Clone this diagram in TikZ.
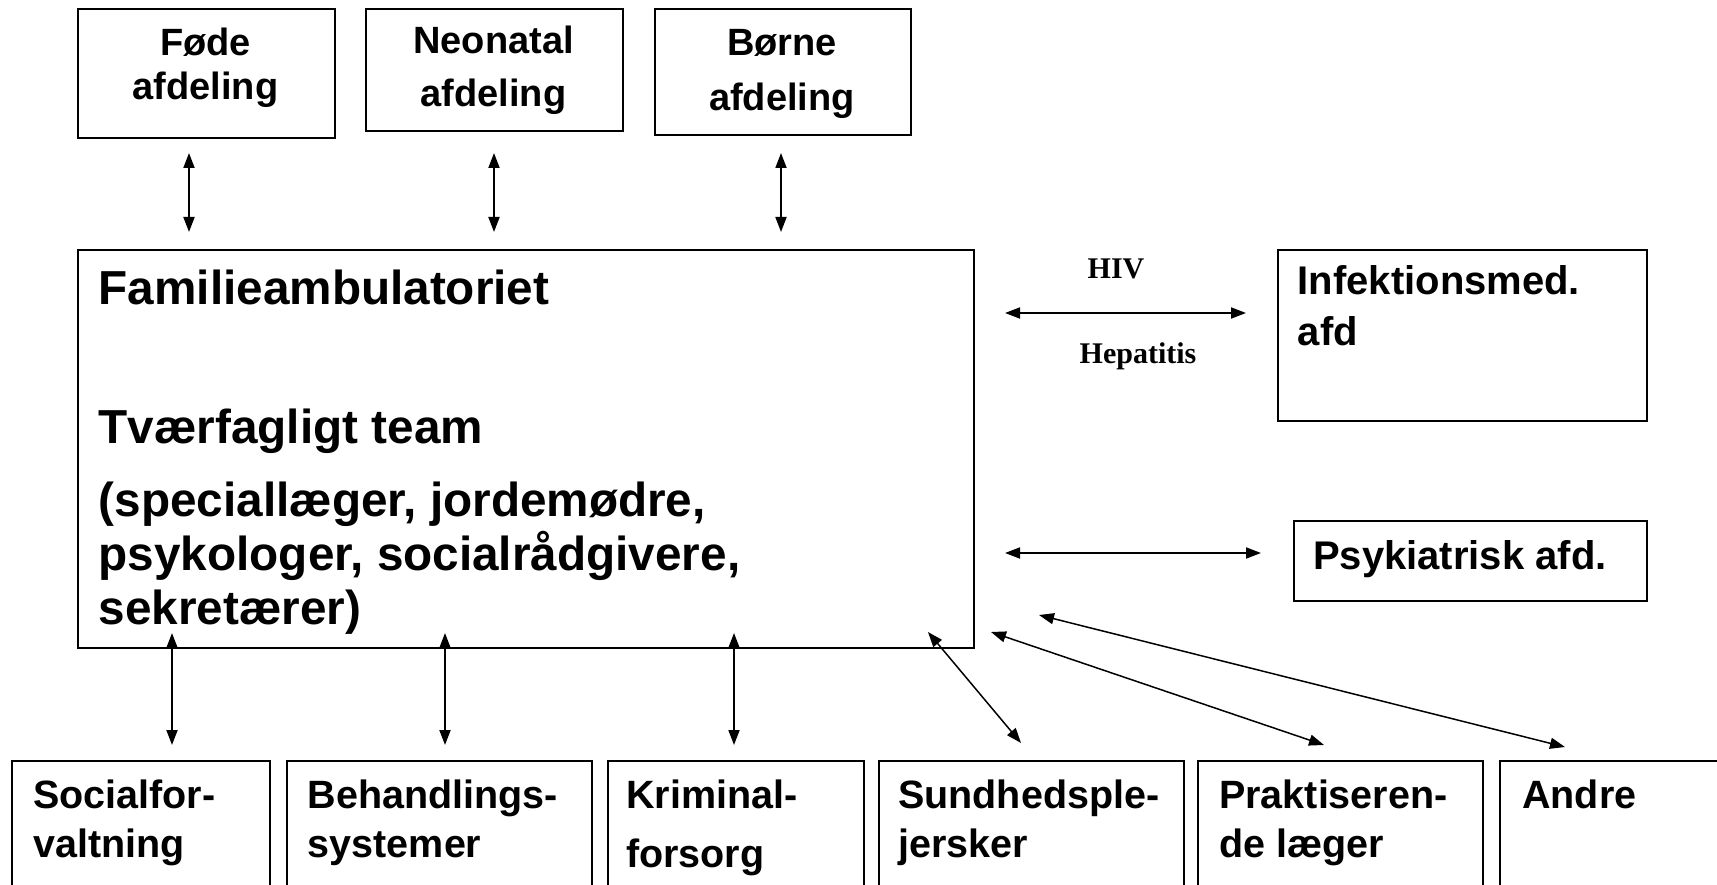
\documentclass[tikz,border=0pt]{standalone}
\usepackage{fontspec}
\setmainfont{Liberation Sans}
\newfontfamily\serifb{Liberation Serif}
\usetikzlibrary{arrows.meta}
\begin{document}
\begin{tikzpicture}[x=1pt,y=-1pt,
  box/.style={draw,line width=2.4pt,anchor=north west,inner sep=0pt},
  arr/.style={{Triangle[length=15pt,width=11pt]}-{Triangle[length=15pt,width=11pt]},line width=1.8pt},
  darr/.style={{Triangle[length=15pt,width=11pt]}-{Triangle[length=15pt,width=11pt]},line width=1.5pt},
  ttop/.style={anchor=base,inner sep=0pt,font=\bfseries\fontsize{38}{46}\selectfont},
  tbot/.style={anchor=base west,inner sep=0pt,font=\bfseries\fontsize{39.5}{48}\selectfont},
  tmain/.style={anchor=base west,inner sep=0pt,font=\bfseries\fontsize{47.7}{54}\selectfont},
  tside/.style={anchor=base west,inner sep=0pt,font=\bfseries\fontsize{40}{48}\selectfont},
  tlab/.style={anchor=base,inner sep=0pt,font=\serifb\bfseries\fontsize{30}{36}\selectfont}]
\useasboundingbox (0,0) rectangle (1717,885);
\clip (0,0) rectangle (1717,885);
\fill[white] (0,0) rectangle (1717,885);

% top boxes
\node[box,minimum width=257pt,minimum height=129pt] (fode) at (77,8) {};
\node[box,minimum width=257pt,minimum height=122pt] (neo) at (365,8) {};
\node[box,minimum width=256pt,minimum height=126pt] (borne) at (654,8) {};
\node[ttop] (fodeA) at (205.5,56) {Føde};
\node[ttop] (fodeB) at (205.5,100) {afdeling};
\node[ttop] (neoA) at (493.5,54) {Neonatal};
\node[ttop] (neoB) at (493.5,107) {afdeling};
\node[ttop] (borneA) at (782,56) {Børne};
\node[ttop] (borneB) at (782,111) {afdeling};

% main box
\node[box,minimum width=896pt,minimum height=398pt] (fam) at (77,249) {};
\node[tmain] (famA) at (98.5,305) {Familieambulatoriet};
\node[tmain] (famB) at (98.5,443) {Tværfagligt team};
\node[tmain] (famC) at (98.5,516) {(speciallæger, jordemødre,};
\node[tmain] (famD) at (98.5,570) {psykologer, socialrådgivere,};
\node[tmain] (famE) at (98.5,624) {sekretærer)};

% right boxes
\node[box,minimum width=369pt,minimum height=171pt] (inf) at (1277,249) {};
\node[tside] (infA) at (1297.6,295) {Infektionsmed.};
\node[tside] (infB) at (1297.6,346) {afd};
\node[box,minimum width=353pt,minimum height=80pt] (psy) at (1293,520) {};
\node[tside] (psyA) at (1313,569) {Psykiatrisk afd.};
\node[tlab] (hiv) at (1116,279) {HIV};
\node[tlab] (hep) at (1138,363) {Hepatitis};

% bottom boxes
\node[box,minimum width=258pt,minimum height=160pt] (soc) at (11,760) {};
\node[box,minimum width=305pt,minimum height=160pt] (beh) at (286,760) {};
\node[box,minimum width=256pt,minimum height=160pt] (kri) at (607,760) {};
\node[box,minimum width=305pt,minimum height=160pt] (sun) at (878,760) {};
\node[box,minimum width=285pt,minimum height=160pt] (pra) at (1197,760) {};
\node[box,minimum width=260pt,minimum height=160pt] (and) at (1499,760) {};
\node[tbot] (socA) at (33,808) {Socialfor-};
\node[tbot] (socB) at (33,857) {valtning};
\node[tbot] (behA) at (307.7,808) {Behandlings-};
\node[tbot] (behB) at (307.7,857) {systemer};
\node[tbot] (kriA) at (626,808) {Kriminal-};
\node[tbot] (kriB) at (626,867) {forsorg};
\node[tbot] (sunA) at (898,808) {Sundhedsple-};
\node[tbot] (sunB) at (898,857) {jersker};
\node[tbot] (praA) at (1219,808) {Praktiseren-};
\node[tbot] (praB) at (1219,857) {de læger};
\node[tbot] (andA) at (1522,808) {Andre};

% connector ends
\coordinate (f1) at (189,153); \coordinate (f2) at (189,232);
\coordinate (n1) at (494,153); \coordinate (n2) at (494,232);
\coordinate (b1) at (781,153); \coordinate (b2) at (781,232);
\coordinate (i1) at (1005,313); \coordinate (i2) at (1246,313);
\coordinate (p1) at (1005,553); \coordinate (p2) at (1261,553);
\coordinate (s1) at (172,633); \coordinate (s2) at (172,745);
\coordinate (h1) at (445,633); \coordinate (h2) at (445,745);
\coordinate (k1) at (734,633); \coordinate (k2) at (734,745);
\coordinate (u1) at (928,632); \coordinate (u2) at (1021,743);
\coordinate (r1) at (991,632); \coordinate (r2) at (1324,745);
\coordinate (a1) at (1039,615); \coordinate (a2) at (1565,747);

\draw[arr] (f1) -- (f2);
\draw[arr] (n1) -- (n2);
\draw[arr] (b1) -- (b2);
\draw[arr] (i1) -- (i2);
\draw[arr] (p1) -- (p2);
\draw[arr] (s1) -- (s2);
\draw[arr] (h1) -- (h2);
\draw[arr] (k1) -- (k2);
\draw[darr] (u1) -- (u2);
\draw[darr] (r1) -- (r2);
\draw[darr] (a1) -- (a2);
\end{tikzpicture}
\end{document}
